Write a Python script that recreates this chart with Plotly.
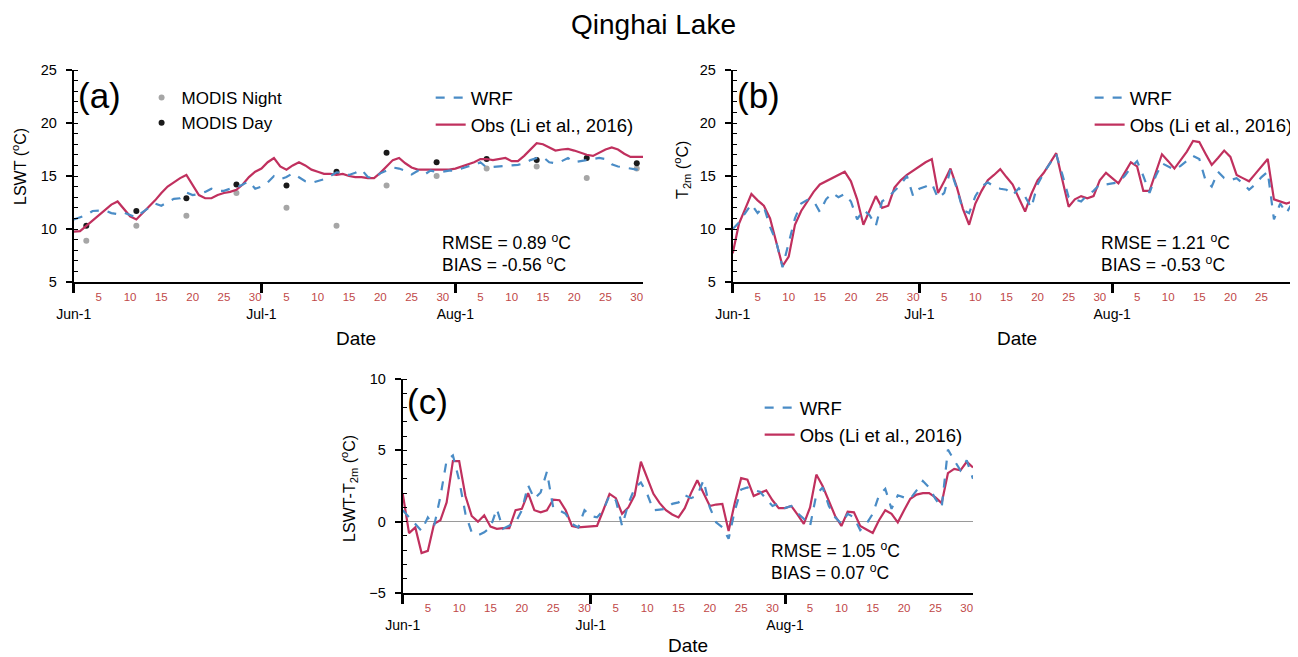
import plotly.graph_objects as go

# ---------------- data (day index 0 = Jun-1, 91 = Aug-31) ----------------
days = list(range(92))
month_starts = [0, 30, 61]
month_labels = ["Jun-1", "Jul-1", "Aug-1"]
month_lengths = [30, 31, 31]
day_label_values = [5, 10, 15, 20, 25, 30]

lswt_obs = [9.75, 9.8, 10.3, 10.8, 11.3, 11.8, 12.3, 12.6, 11.9, 11.2,
            10.9, 11.5, 12.1, 12.7, 13.4, 14.0, 14.4, 14.8, 15.1, 14.2,
            13.2, 12.9, 12.9, 13.2, 13.4, 13.5, 13.7, 14.2, 14.9, 15.4,
            15.7, 16.3, 16.7, 15.9, 15.6, 16.0, 16.3, 16.0, 15.6, 15.4,
            15.2, 15.2, 15.1, 15.2, 15.0, 14.9, 14.9, 14.8, 14.8, 15.3,
            15.9, 16.5, 16.7, 16.2, 15.8, 15.6, 15.6, 15.6, 15.6, 15.6,
            15.6, 15.7, 15.9, 16.1, 16.3, 16.6, 16.6, 16.5, 16.6, 16.7,
            16.4, 16.4, 16.9, 17.5, 18.1, 18.0, 17.7, 17.4, 17.5, 17.55,
            17.4, 17.2, 17.0, 16.9, 17.2, 17.5, 17.7, 17.5, 17.1, 16.8,
            16.8, 16.8]
lswt_wrf = [10.9, 11.1, 11.3, 11.7, 11.75, 11.75, 11.5, 11.4, 11.55, 11.3,
            11.1, 11.6, 12.0, 12.4, 12.2, 12.5, 12.85, 12.9, 13.45, 13.2,
            13.3, 13.5, 13.8, 13.6, 13.6, 13.8, 13.9, 14.2, 14.5, 13.8,
            14.0, 14.4, 15.0, 14.7, 14.9, 15.25, 14.9, 14.5, 14.35, 14.5,
            14.7, 15.0, 15.35, 15.3, 15.1, 15.3, 15.6, 14.9, 14.8, 15.25,
            15.5, 15.8, 15.7, 15.5, 15.15, 15.5, 15.1, 15.5, 15.4, 15.4,
            15.5, 15.5, 15.7, 15.9, 16.0, 16.3, 15.8, 15.85, 15.9, 16.0,
            16.05, 16.05, 16.2, 16.5, 16.7, 16.8, 16.3, 16.2, 16.4, 16.7,
            16.3, 16.4, 16.5, 16.6, 16.7, 16.6, 16.1, 15.9, 15.8, 15.7,
            15.6, 15.35]

modis_days = [2, 10, 18, 26, 34, 42, 50, 58, 66, 74, 82, 90]
modis_day = [10.3, 11.7, 12.9, 14.2, 14.1, 15.4, 17.2, 16.3, 16.6, 16.5, 16.7, 16.2]
modis_night = [8.9, 10.3, 11.25, 13.4, 12.0, 10.3, 14.1, 15.0, 15.7, 15.9, 14.8, 15.7]

t2m_obs = [7.7, 10.5, 11.9, 13.3, 12.7, 12.2, 11.0, 8.8, 6.5, 7.4,
           10.4, 11.7, 12.6, 13.5, 14.2, 14.5, 14.8, 15.1, 15.4, 14.5,
           12.8, 10.4, 11.8, 13.1, 12.0, 12.2, 13.9, 14.6, 15.1, 15.5,
           15.9, 16.3, 16.6, 13.4, 14.5, 15.7, 14.0, 11.9, 10.4, 12.4,
           13.6, 14.6, 15.1, 15.65, 14.9, 14.2, 12.9, 11.65, 13.3, 14.6,
           15.3, 16.2, 17.15, 14.6, 12.1, 12.8, 13.1, 12.9, 13.1, 14.6,
           15.3, 14.8, 14.3, 15.3, 16.3, 15.9, 13.6, 13.6, 15.3, 17.05,
           16.4, 15.7, 16.5, 17.3, 18.3, 18.2, 17.1, 16.05, 16.7, 17.4,
           16.8, 15.1, 14.8, 14.5, 15.2, 15.9, 16.6, 12.8, 12.6, 12.4,
           12.6, 12.7]
t2m_wrf = [10.0, 10.6, 11.5, 12.35, 11.5, 12.1, 10.2, 8.8, 6.4, 8.6,
           11.0, 12.4, 12.75, 12.65, 11.6, 12.8, 13.4, 13.0, 13.3, 12.6,
           10.9, 11.8, 11.3, 10.3, 12.6, 13.0, 13.6, 14.2, 15.0, 13.1,
           13.8, 14.0, 14.3, 12.9, 13.4, 15.6, 13.85, 11.8, 11.5, 13.1,
           14.0, 14.4, 14.0, 13.8, 13.7, 13.2, 13.85, 13.05, 12.0, 14.2,
           15.3, 16.2, 17.05, 15.1, 13.0, 12.8, 12.6, 13.2, 13.6, 14.2,
           14.2, 14.3, 14.4, 15.0, 15.8, 16.4, 15.0, 13.4, 15.0, 16.2,
           15.9, 15.6, 15.95, 16.4, 16.9, 16.6, 14.6, 14.0, 15.4, 14.8,
           14.6, 14.8, 14.3, 13.7, 14.2, 14.9, 15.4, 10.9, 12.4, 11.5,
           12.5, 12.0]

diff_obs = [1.95, -0.8, -0.4, -2.2, -2.05, -0.15, 0.1, 1.35, 4.25, 4.25,
            1.8, 0.4, 0.0, 0.45, -0.35, -0.5, -0.45, -0.45, 0.8, 0.9,
            2.0, 0.8, 0.65, 0.8, 1.55, 1.5, 0.8, -0.3, -0.4, -0.37,
            -0.33, -0.3, 0.8, 1.95, 1.65, 0.55, 1.0, 1.85, 4.2, 3.0,
            1.95, 1.3, 0.8, 0.5, 0.3, 0.95, 2.0, 2.9, 1.95, 1.1,
            1.2, 1.25, -0.65, 1.35, 3.05, 2.95, 1.8, 2.0, 2.2, 1.5,
            0.95, 0.95, 1.1, 0.5, -0.15, 1.0, 3.3, 2.5, 1.4, 0.4,
            -0.3, 0.7, 0.65, -0.3, -0.55, -0.8, 0.1, 0.8, 0.55, -0.05,
            0.8, 1.6, 1.9, 2.0, 2.0, 1.7, 1.3, 3.4, 3.7, 3.6,
            4.2, 3.8]
diff_wrf = [0.8, 0.3, -0.15, -0.65, 0.3, -0.3, 1.75, 4.3, 4.65, 2.9,
            0.55, -0.75, -0.95, -0.75, -0.4, 0.9, -0.5, -0.25, -0.05, 0.8,
            2.55, 1.6, 2.05, 3.5, 1.0, 0.8, 0.55, -0.15, -0.4, 0.8,
            0.4, 0.3, 0.8, 1.85, 1.5, -0.3, 1.25, 2.35, 2.75, 1.95,
            0.8, 0.85, 0.9, 1.25, 1.35, 1.85, 1.65, 1.85, 2.9, 1.0,
            -0.05, -0.4, -1.2, 0.8, 2.25, 2.4, 2.2, 2.1, 1.6, 1.1,
            1.3, 0.95, 1.1, 0.6, 0.2, -0.3, 1.9, 2.4, 1.1, 0.3,
            -0.15, 0.55, 0.3, -0.6, -0.15, 0.55, 1.85, 2.3, 0.9, 1.85,
            1.7, 1.6, 2.2, 2.85, 2.4, 1.6, 1.0, 5.05, 4.3, 3.6,
            4.3, 3.0]

stats = {
    "a": ["RMSE = 0.89 <sup>o</sup>C", "BIAS = -0.56 <sup>o</sup>C"],
    "b": ["RMSE = 1.21 <sup>o</sup>C", "BIAS = -0.53 <sup>o</sup>C"],
    "c": ["RMSE = 1.05 <sup>o</sup>C", "BIAS = 0.07 <sup>o</sup>C"],
}

# ---------------- styling ----------------
PAGE_W, PAGE_H = 1298, 657
OFF = 8                      # page body margin of the browser
W, H = PAGE_W - OFF, PAGE_H - OFF
FONT = "Liberation Sans, Arial, Helvetica, sans-serif"
BLUE = "#4a8cc6"
RED = "#c0305e"
TICKRED = "#c04848"


def px(x):
    """page pixel x -> paper fraction"""
    return (x - OFF) / W


def py(y):
    """page pixel y -> paper fraction"""
    return 1 - (y - OFF) / H


day_ticks, day_text = [], []
for ms, ml in zip(month_starts, month_lengths):
    for d in day_label_values:
        if d <= ml:
            day_ticks.append(ms + d - 1)
            day_text.append(str(d))

fig = go.Figure()

series = {
    "a": (lswt_obs, lswt_wrf),
    "b": (t2m_obs, t2m_wrf),
    "c": (diff_obs, diff_wrf),
}

# panel (a) MODIS points
fig.add_trace(go.Scatter(x=modis_days, y=modis_night, mode="markers", name="MODIS Night",
                         marker=dict(color="#a6a6a6", size=6), xaxis="x", yaxis="y",
                         legend="legend"))
fig.add_trace(go.Scatter(x=modis_days, y=modis_day, mode="markers", name="MODIS Day",
                         marker=dict(color="#1a1a1a", size=6), xaxis="x", yaxis="y",
                         legend="legend"))

legends = {"a": "legend2", "b": "legend3", "c": "legend4"}
for i, (key, (obs, wrf)) in enumerate(series.items(), start=1):
    sfx = "" if i == 1 else str(i)
    # invisible carrier so the day-label axis is drawn
    fig.add_trace(go.Scatter(x=days, y=obs, mode="lines", xaxis=f"x{i + 3}", yaxis=f"y{sfx}",
                             line=dict(width=0), opacity=0, showlegend=False, hoverinfo="skip"))
    fig.add_trace(go.Scatter(x=days, y=obs, mode="lines", name="Obs (Li et al., 2016)",
                             line=dict(color=RED, width=2.2), xaxis=f"x{sfx}", yaxis=f"y{sfx}",
                             legend=legends[key], legendrank=2))
    fig.add_trace(go.Scatter(x=days, y=wrf, mode="lines", name="WRF",
                             line=dict(color=BLUE, width=2.2, dash="dash"),
                             xaxis=f"x{sfx}", yaxis=f"y{sfx}",
                             legend=legends[key], legendrank=1))

panels = {
    "a": dict(x0=74, x1=645, yt=70, yb=282, xr=[0, 91], yr=[5, 25],
              ytitle="LSWT (<sup>o</sup>C)", label=(76, 95), st=(441, 242),
              date=(357, 338), yt_pos=(19, 166)),
    "b": dict(x0=735, x1=PAGE_W, yt=70, yb=282, xr=[0, (PAGE_W - 735) / 6.24], yr=[5, 25],
              ytitle="T<sub>2m</sub> (<sup>o</sup>C)", label=(737, 95), st=(1102, 242),
              date=(1020, 338), yt_pos=(684, 170)),
    "c": dict(x0=404, x1=976, yt=379, yb=593, xr=[0, 91], yr=[-5, 10],
              ytitle="LSWT-T<sub>2m</sub> (<sup>o</sup>C)", label=(406, 401), st=(771, 550),
              date=(690, 645), yt_pos=(350, 488)),
}

annotations = []
for i, (key, p) in enumerate(panels.items(), start=1):
    sfx = "" if i == 1 else str(i)
    ovl = str(i + 3)
    xdom = [px(p["x0"]), min(1.0, px(p["x1"]))]
    ydom = [py(p["yb"]), py(p["yt"])]
    fig.update_layout(**{
        f"xaxis{sfx}": dict(domain=xdom, range=p["xr"], anchor=f"y{sfx}", automargin=False,
                            showline=True, linecolor="black", linewidth=2,
                            ticks="outside", ticklen=9, tickwidth=2.5, tickcolor="black",
                            tickmode="array", tickvals=month_starts, ticktext=month_labels,
                            tickfont=dict(family=FONT, size=14, color="black"),
                            ticklabelstandoff=9,
                            showgrid=False, zeroline=False),
        f"yaxis{sfx}": dict(domain=ydom, range=p["yr"], anchor=f"x{sfx}", automargin=False,
                            showline=True, linecolor="black", linewidth=2,
                            ticks="outside", ticklen=6, tickwidth=1.8, tickcolor="black",
                            dtick=5, tick0=0,
                            tickfont=dict(family=FONT, size=14.5, color="black"),
                            ticklabelstandoff=6,
                            minor=dict(ticks="inside", ticklen=4, tickwidth=1, dtick=1,
                                       tickcolor="black", showgrid=False),
                            showgrid=False,
                            zeroline=(key == "c"), zerolinecolor="#9a9a9a", zerolinewidth=1),
        f"xaxis{ovl}": dict(overlaying=f"x{sfx}", anchor=f"y{sfx}", side="bottom",
                            range=p["xr"], showline=False, ticks="", automargin=False,
                            tickmode="array", tickvals=day_ticks, ticktext=day_text,
                            tickfont=dict(family=FONT, size=11.5, color=TICKRED),
                            ticklabelstandoff=6,
                            showgrid=False, zeroline=False),
    })
    lx, ly = p["label"]
    annotations.append(dict(text=f"({key})", x=px(lx), y=py(ly), xref="paper", yref="paper",
                            xanchor="left", yanchor="middle", showarrow=False,
                            font=dict(family=FONT, size=35, color="black")))
    sx, sy = p["st"]
    for j, t in enumerate(stats[key]):
        annotations.append(dict(text=t, x=px(sx), y=py(sy + 22 * j), xref="paper", yref="paper",
                                xanchor="left", yanchor="middle", showarrow=False,
                                font=dict(family=FONT, size=17.5, color="black")))
    dx, dy = p["date"]
    annotations.append(dict(text="Date", x=px(dx), y=py(dy), xref="paper", yref="paper",
                            xanchor="center", yanchor="middle", showarrow=False,
                            font=dict(family=FONT, size=19, color="black")))
    tx, ty = p["yt_pos"]
    annotations.append(dict(text=p["ytitle"], x=px(tx), y=py(ty), xref="paper", yref="paper",
                            xanchor="center", yanchor="middle", showarrow=False, textangle=-90,
                            font=dict(family=FONT, size=16, color="black")))

annotations.append(dict(text="Qinghai Lake", x=px(656), y=py(25), xref="paper", yref="paper",
                        xanchor="center", yanchor="middle", showarrow=False,
                        font=dict(family=FONT, size=28, color="black")))

leg_common = dict(xanchor="left", yanchor="top", bgcolor="rgba(0,0,0,0)",
                  tracegroupgap=0, traceorder="normal")
line_font = dict(family=FONT, size=18.5, color="black")
fig.update_layout(
    width=W, height=H,
    margin=dict(l=0, r=0, t=0, b=0),
    paper_bgcolor="white", plot_bgcolor="white",
    showlegend=True,
    legend=dict(x=px(142), y=py(80), font=dict(family=FONT, size=17, color="black"),
                **leg_common),
    legend2=dict(x=px(432), y=py(79), font=line_font, **leg_common),
    legend3=dict(x=px(1093), y=py(79), font=line_font, **leg_common),
    legend4=dict(x=px(762), y=py(389), font=line_font, **leg_common),
    annotations=annotations,
)

fig.write_html("out.html")
